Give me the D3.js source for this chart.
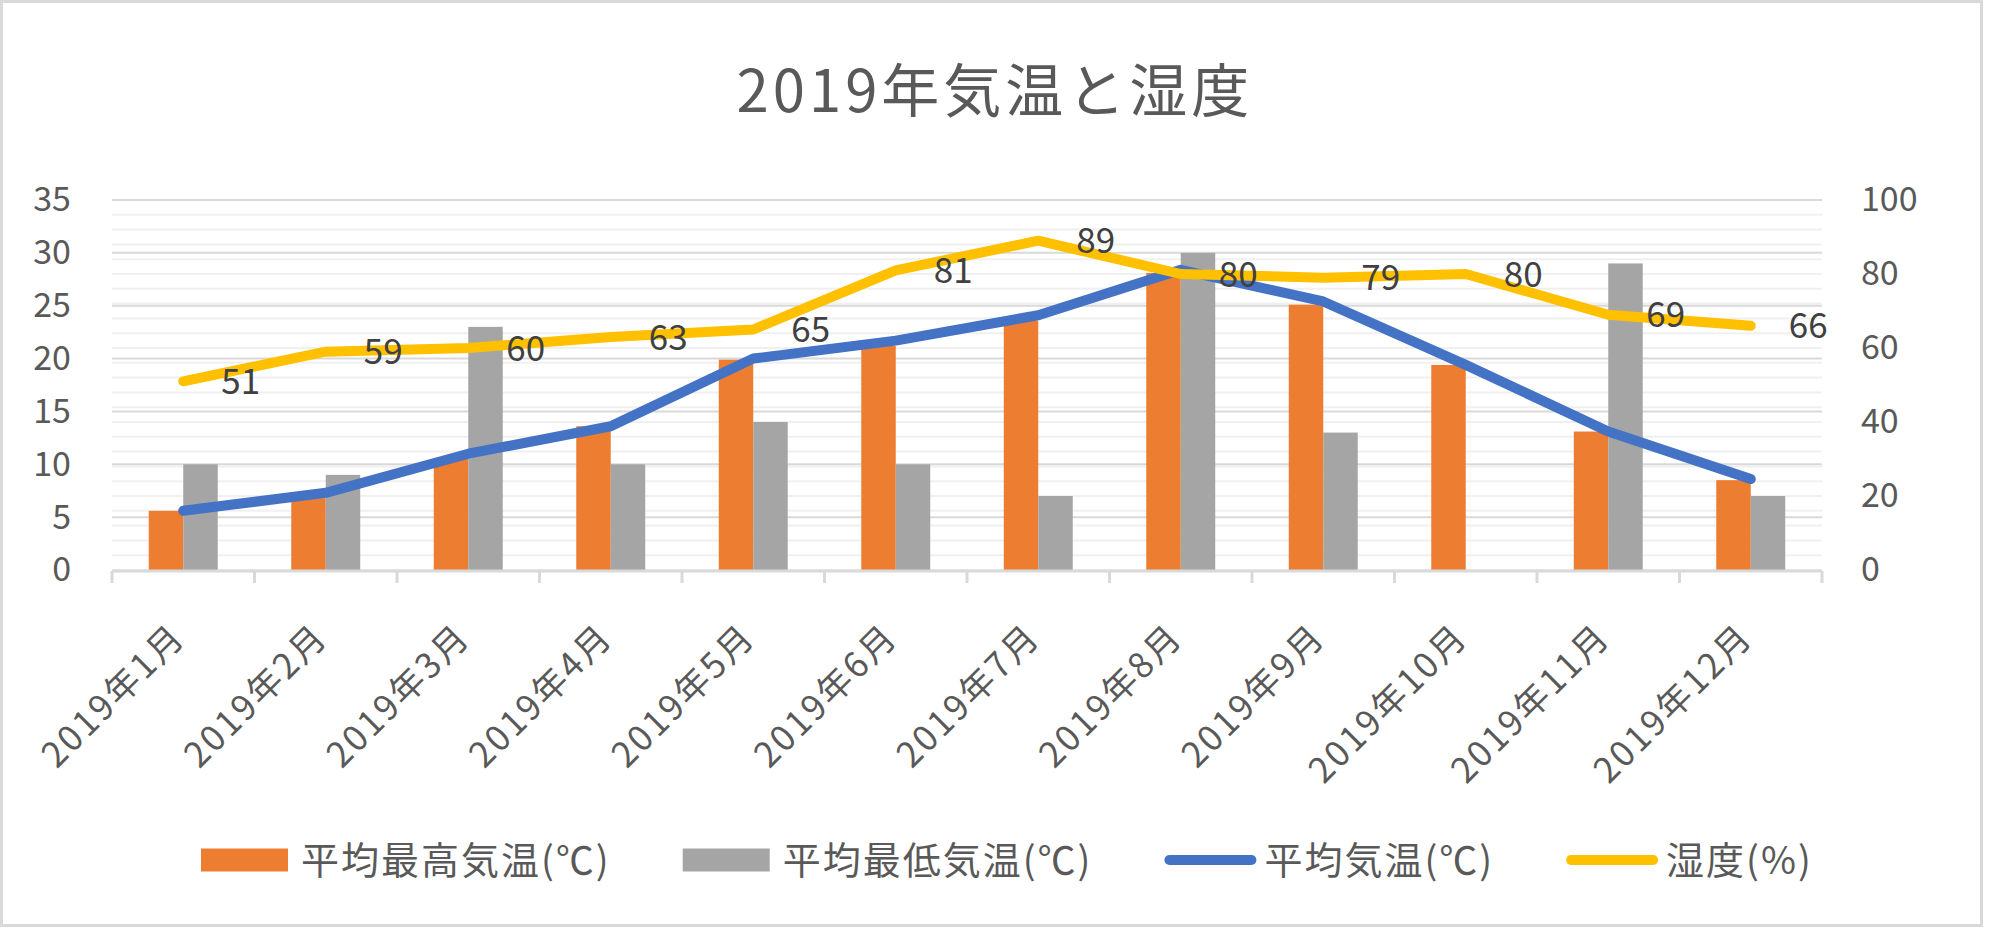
<!DOCTYPE html>
<html>
<head>
<meta charset="utf-8">
<script src="https://cdn.jsdelivr.net/npm/d3@7"></script>
<style>
  html, body { margin: 0; padding: 0; background: #ffffff; }
  svg { display: block; font-family: "Noto Sans CJK JP", "Noto Sans", sans-serif; }
</style>
</head>
<body>
<svg id="chart" width="1994" height="928"></svg>
<script>
// ---- data ----
const title = "2019年気温と湿度";
const months = ["2019年1月","2019年2月","2019年3月","2019年4月","2019年5月","2019年6月",
                "2019年7月","2019年8月","2019年9月","2019年10月","2019年11月","2019年12月"];
const avgMax = [5.6, 6.8, 10.6, 13.6, 19.9, 21.2, 23.6, 28.1, 25.1, 19.4, 13.1, 8.5];
const avgMin = [10, 9, 23, 10, 14, 10, 7, 30, 13, null, 29, 7];
const avgTemp = [5.6, 7.3, 11.0, 13.6, 20.0, 21.7, 24.1, 28.4, 25.4, 19.4, 13.1, 8.6];
const humidity = [51, 59, 60, 63, 65, 81, 89, 80, 79, 80, 69, 66];
const leftTicks = [0, 5, 10, 15, 20, 25, 30, 35];
const rightTicks = [0, 20, 40, 60, 80, 100];
const seriesNames = ["平均最高気温(℃)", "平均最低気温(℃)", "平均気温(℃)", "湿度(%)"];
const colors = ["#ED7D31", "#A5A5A5", "#4472C4", "#FFC000"];

// ---- layout ----
const svg = d3.select("#chart");
const L = 112, R = 1822, T = 200, B = 570;

svg.append("rect").attr("x", 1.5).attr("y", 1.5).attr("width", 1980).attr("height", 924)
  .attr("fill", "#fff").attr("stroke", "#d9d9d9").attr("stroke-width", 3);

const x = d3.scaleBand().domain(months).range([L, R]).paddingInner(0.516).paddingOuter(0.258);
const xs = d3.scaleBand().domain([0, 1]).range([0, x.bandwidth()]);
const yL = d3.scaleLinear().domain([0, 35]).range([B, T]);
const yR = d3.scaleLinear().domain([0, 100]).range([B, T]);
const cx = m => x(m) + x.bandwidth() / 2;

// minor gridlines (secondary axis, every 4)
const minorVals = d3.range(0, 101, 4);
svg.append("g").selectAll("line").data(minorVals).join("line")
  .attr("x1", L).attr("x2", R).attr("y1", d => yR(d)).attr("y2", d => yR(d))
  .attr("stroke", "#f0f0f0").attr("stroke-width", 2);
// major gridlines (primary)
svg.append("g").selectAll("line").data(leftTicks.filter(d => d > 0)).join("line")
  .attr("x1", L).attr("x2", R).attr("y1", d => yL(d)).attr("y2", d => yL(d))
  .attr("stroke", "#d9d9d9").attr("stroke-width", 2);

// title
svg.append("text").attr("x", 995).attr("y", 112).attr("text-anchor", "middle")
  .attr("font-size", 58).attr("letter-spacing", 4).attr("fill", "#595959").text(title);

// bars
const bars = svg.append("g");
[avgMax, avgMin].forEach((arr, si) => {
  bars.append("g").selectAll("rect").data(months.map((m, i) => ({m, v: arr[i]})).filter(d => d.v != null))
    .join("rect")
    .attr("x", d => x(d.m) + xs(si)).attr("width", xs.bandwidth())
    .attr("y", d => yL(d.v)).attr("height", d => B - yL(d.v))
    .attr("fill", colors[si]);
});

// x axis
const xAxisG = svg.append("g").attr("transform", `translate(0,${B})`);
xAxisG.append("line").attr("x1", L).attr("x2", R).attr("y1", 1).attr("y2", 1)
  .attr("stroke", "#d9d9d9").attr("stroke-width", 3);
const boundaries = months.map(m => x(m) - x.step() * x.paddingInner() / 2).concat([R]);
xAxisG.selectAll(".tk").data(boundaries).join("line")
  .attr("x1", d => d).attr("x2", d => d).attr("y1", 1).attr("y2", 13)
  .attr("stroke", "#d9d9d9").attr("stroke-width", 3);
svg.append("g").selectAll("text").data(months).join("text")
  .attr("transform", d => `translate(${cx(d) + 4},${B + 69}) rotate(-45)`)
  .attr("text-anchor", "end").attr("font-size", 35).attr("letter-spacing", 2.5)
  .attr("fill", "#595959").text(d => d);

// y axes
const axL = svg.append("g").attr("transform", `translate(${L},0)`)
  .call(d3.axisLeft(yL).tickValues(leftTicks).tickSize(0).tickPadding(41));
const axR = svg.append("g").attr("transform", `translate(${R},0)`)
  .call(d3.axisRight(yR).tickValues(rightTicks).tickSize(0).tickPadding(39));
[axL, axR].forEach(g => {
  g.select(".domain").remove();
  g.selectAll("text").attr("font-size", 34).attr("fill", "#595959")
    .attr("font-family", "\"Noto Sans CJK JP\", sans-serif");
});

// lines
const lineL = d3.line().x((d, i) => cx(months[i])).y(d => yL(d));
const lineR = d3.line().x((d, i) => cx(months[i])).y(d => yR(d));
svg.append("path").datum(avgTemp).attr("d", lineL).attr("fill", "none")
  .attr("stroke", colors[2]).attr("stroke-width", 10)
  .attr("stroke-linecap", "round").attr("stroke-linejoin", "round");
svg.append("path").datum(humidity).attr("d", lineR).attr("fill", "none")
  .attr("stroke", colors[3]).attr("stroke-width", 10)
  .attr("stroke-linecap", "round").attr("stroke-linejoin", "round");

// data labels
svg.append("g").selectAll("text").data(humidity).join("text")
  .attr("x", (d, i) => cx(months[i]) + 38).attr("y", d => yR(d)).attr("dy", "0.36em")
  .attr("font-size", 35).attr("fill", "#404040").text(d => d);

// legend
const lg = svg.append("g").attr("transform", "translate(0,860)");
let lx = 201;
seriesNames.forEach((name, i) => {
  if (i < 2) {
    lg.append("rect").attr("x", lx).attr("y", -11.5).attr("width", 87).attr("height", 23)
      .attr("fill", colors[i]);
  } else {
    lg.append("line").attr("x1", lx + 5).attr("x2", lx + 87).attr("y1", 0).attr("y2", 0)
      .attr("stroke", colors[i]).attr("stroke-width", 10).attr("stroke-linecap", "round");
  }
  const t = lg.append("text").attr("x", lx + 100).attr("y", 0).attr("dy", "0.36em")
    .attr("font-size", 38).attr("letter-spacing", 2).attr("fill", "#595959").text(name);
  lx = lx + 100 + t.node().getComputedTextLength() + 72;
});
</script>
</body>
</html>
